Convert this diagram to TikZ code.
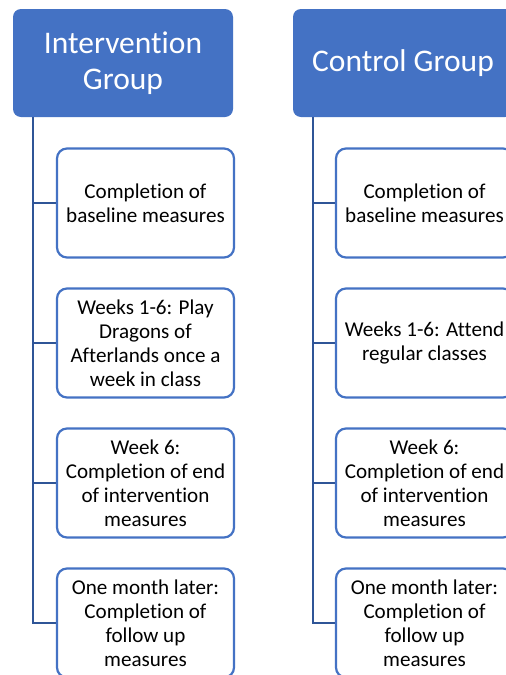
\documentclass[tikz,border=0pt]{standalone}
\usepackage{fontspec}
\setmainfont[Ligatures={NoCommon}]{Carlito}
\definecolor{headblue}{HTML}{4472C4}
\definecolor{boxblue}{HTML}{4472C4}
\definecolor{lineblue}{HTML}{2F5597}
\tikzset{
  head/.style={rectangle, rounded corners=8pt, fill=headblue, text=white,
    minimum width=220pt, minimum height=108pt, inner sep=0pt, align=center,
    font=\fontsize{31.5}{36}\selectfont},
  stepbox/.style={rectangle, rounded corners=10pt, draw=boxblue, line width=2.2pt, fill=white,
    minimum width=177pt, minimum height=109pt, inner sep=0pt, align=center, text=black,
    font=\fontsize{21.1}{24}\selectfont},
  conn/.style={draw=lineblue, line width=2.2pt}
}
\begin{document}
\begin{tikzpicture}[x=1pt,y=-1pt]
\useasboundingbox (0,0) rectangle (506,675);
\clip (0,0) rectangle (506,675);
\fill[white] (0,0) rectangle (506,675);

\node[head] (h1) at (123,63) {Intervention\\Group};
\node[head] (h2) at (403,63) {Control Group};

\coordinate (t1) at (33,117);
\coordinate (t2) at (313,117);

\node[stepbox] (a1) at (145.5,203) {Completion of\\baseline measures};
\node[stepbox] (a2) at (145.5,343) {Weeks 1-6: Play\\Dragons of\\Afterlands once a\\week in class};
\node[stepbox] (a3) at (145.5,483) {Week 6:\\Completion of end\\of intervention\\measures};
\node[stepbox] (a4) at (145.5,623) {One month later:\\Completion of\\follow up\\measures};

\node[stepbox] (b1) at (424.5,203) {Completion of\\baseline measures};
\node[stepbox] (b2) at (424.5,343) {Weeks 1-6: Attend\\regular classes};
\node[stepbox] (b3) at (424.5,483) {Week 6:\\Completion of end\\of intervention\\measures};
\node[stepbox] (b4) at (424.5,623) {One month later:\\Completion of\\follow up\\measures};

\foreach \n in {a1,a2,a3,a4} \draw[conn] (t1) |- (\n.west);
\foreach \n in {b1,b2,b3,b4} \draw[conn] (t2) |- (\n.west);
\end{tikzpicture}
\end{document}
